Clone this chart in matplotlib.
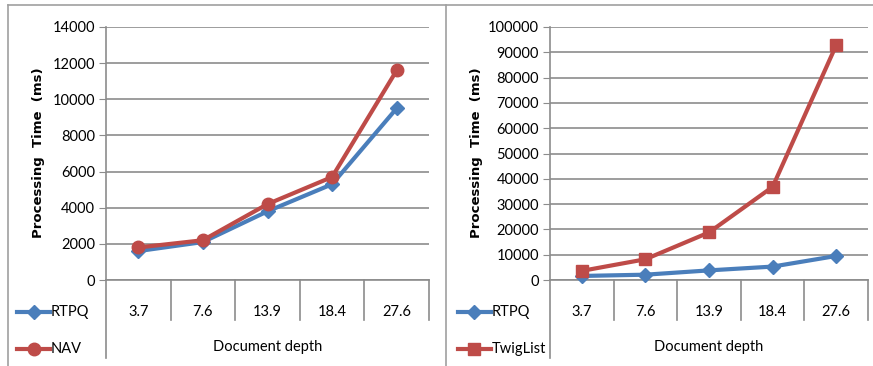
import matplotlib
matplotlib.use("Agg")
import matplotlib.pyplot as plt
from matplotlib.lines import Line2D
from matplotlib.transforms import blended_transform_factory

plt.rcParams['font.family'] = ['Lato', 'DejaVu Sans']

depths = ["3.7", "7.6", "13.9", "18.4", "27.6"]
rtpq = [1600, 2100, 3800, 5300, 9500]
nav = [1800, 2200, 4200, 5700, 11600]
twiglist = [3600, 8200, 18800, 36800, 92800]

blue = "#4A7EBB"
red = "#BE4B48"
grid_c = "#8C8C8C"

W, H = 873, 366
fig = plt.figure(figsize=(W / 100, H / 100), dpi=100)


def fx(x):
    return x / W


def fy(y):
    return 1 - y / H


# panel frames
fig.add_artist(Line2D([fx(8), fx(873)], [fy(5), fy(5)], color="#A0A0A0", lw=1.2))
fig.add_artist(Line2D([fx(8), fx(8)], [fy(5), fy(366)], color="#A0A0A0", lw=1.2))
fig.add_artist(Line2D([fx(446), fx(446)], [fy(5), fy(366)], color="#A0A0A0", lw=1.2))


def panel(x0, x1, ymax, ystep, series, ylab_x, leg_x):
    ax = fig.add_axes([fx(x0), fy(280), fx(x1 - x0), (280 - 27) / H])
    xs = range(len(depths))
    for vals, name, col, mk, ms in series:
        ax.plot(xs, vals, color=col, lw=3, marker=mk, ms=ms, clip_on=False, zorder=3)
    ax.set_xlim(-0.5, len(depths) - 0.5)
    ax.set_ylim(0, ymax)
    ax.set_yticks(range(0, ymax + 1, ystep))
    ax.yaxis.grid(True, color=grid_c, lw=1.2)
    ax.set_axisbelow(True)
    for s in ["top", "right"]:
        ax.spines[s].set_visible(False)
    ax.spines["left"].set_color(grid_c)
    ax.spines["bottom"].set_color(grid_c)
    ax.spines["left"].set_linewidth(1.2)
    ax.spines["bottom"].set_linewidth(1.2)
    ax.tick_params(axis="y", length=5, color=grid_c, labelsize=10.5, pad=3)
    ax.tick_params(axis="x", length=0, labelbottom=False)
    ax.set_xticks([])

    hpx = 280 - 27
    tr = blended_transform_factory(ax.transData, ax.transAxes)
    for i in range(len(depths) + 1):
        bottom = -78 / hpx if i == 0 else -40 / hpx
        ax.add_line(Line2D([i - 0.5, i - 0.5], [0, bottom], transform=tr,
                           color=grid_c, lw=1.2, clip_on=False))
    for i, d in enumerate(depths):
        ax.text(i, -32 / hpx, d, transform=tr, ha="center", va="center", fontsize=10.5)
    ax.text(2, -67 / hpx, "Document depth", transform=tr, ha="center", va="center",
            fontsize=10.5)

    fig.text(fx(ylab_x), fy(153), "Processing  Time  (ms)", rotation=90, ha="center",
             va="center", fontsize=9.5, fontweight="bold", family="DejaVu Sans")

    for k, (vals, name, col, mk, ms) in enumerate(series):
        yy = fy(312 + 37 * k)
        fig.add_artist(Line2D([fx(leg_x), fx(leg_x + 33)], [yy, yy], color=col, lw=3))
        fig.add_artist(Line2D([fx(leg_x + 16.5)], [yy], color=col, marker=mk, ms=ms, lw=0))
        fig.text(fx(leg_x + 34), yy, name, ha="left", va="center", fontsize=10.5)
    return ax


panel(106, 429, 14000, 2000,
      [(rtpq, "RTPQ", blue, "D", 7), (nav, "NAV", red, "o", 9)],
      39, 17)
panel(550, 868, 100000, 10000,
      [(rtpq, "RTPQ", blue, "D", 7), (twiglist, "TwigList", red, "s", 9)],
      477, 458)

fig.savefig("out.png", dpi=100)
